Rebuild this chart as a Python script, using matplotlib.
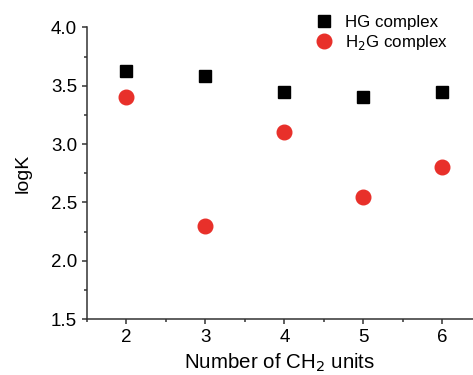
import numpy as np
import matplotlib.pyplot as plt
from matplotlib.ticker import MultipleLocator

plt.rcParams['font.family'] = ['Liberation Sans', 'DejaVu Sans']

ch2_units = [2, 3, 4, 5, 6]
hg_logk = [3.63, 3.58, 3.45, 3.40, 3.45]
h2g_logk = [3.40, 2.30, 3.10, 2.55, 2.80]

fig = plt.figure(figsize=(4.73, 3.75), dpi=100)
ax = fig.add_axes([0.184, 0.149, 0.816, 0.778])

ax.plot(ch2_units, hg_logk, 's', color='black', markersize=9, label='HG complex')
ax.plot(ch2_units, h2g_logk, 'o', color='#e8302a', markersize=10.5, label='H$_2$G complex')

ax.set_xlim(1.5, 6.39)
ax.set_ylim(1.5, 4.0)
ax.xaxis.set_major_locator(MultipleLocator(1))
ax.xaxis.set_minor_locator(MultipleLocator(0.5))
ax.yaxis.set_major_locator(MultipleLocator(0.5))
ax.yaxis.set_minor_locator(MultipleLocator(0.25))
ax.yaxis.set_major_formatter(plt.FormatStrFormatter('%.1f'))

for s in ['top', 'right']:
    ax.spines[s].set_visible(False)
for s in ['left', 'bottom']:
    ax.spines[s].set_linewidth(1.1)
    ax.spines[s].set_color('#333333')

ax.tick_params(which='major', direction='out', length=3.6, width=1.1, pad=3.5,
               labelsize=13.5, colors='#333333', labelcolor='black')
ax.tick_params(which='minor', direction='out', length=2.2, width=1.1, colors='#333333')

ax.set_xlabel('Number of CH$_2$ units', fontsize=14.8, labelpad=4)
ax.set_ylabel('logK', fontsize=14, labelpad=14)

ax.legend(loc='upper left', bbox_to_anchor=(0.664, 0.960), bbox_transform=fig.transFigure,
          frameon=False, fontsize=12.2, handlelength=1.2, handletextpad=0.65,
          borderpad=0, borderaxespad=0, labelspacing=0.2)

fig.savefig('out.png', dpi=100)
